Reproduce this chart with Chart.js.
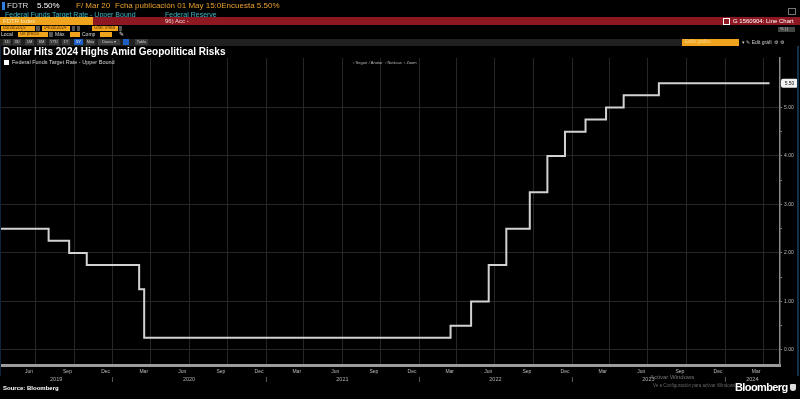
<!DOCTYPE html>
<html lang="es">
<head>
<meta charset="UTF-8">
<title>FDTR Line Chart</title>
<script src="https://cdn.jsdelivr.net/npm/chart.js"></script>
<style>
  html, body { margin: 0; padding: 0; background: #000; }
  body { width: 800px; height: 399px; position: relative; overflow: hidden; font-family: "Liberation Sans", Arial, sans-serif; }
  #chartBox { position: absolute; left: 0; top: 0; width: 800px; height: 399px; }
  .t { position: absolute; white-space: nowrap; line-height: 1; }
  .box { position: absolute; }
  .btn { position: absolute; top: 39px; height: 6px; background: #3a3a3a; color: #ccc; font-size: 4px; line-height: 6px; text-align: center; }
</style>
</head>
<body>
<div id="chartBox"><canvas id="rateChart" width="800" height="399"></canvas></div>

<!-- row 1 -->
<div class="box" style="left:2px;top:2px;width:3px;height:8px;background:#2f7fe0"></div>
<div class="t" style="left:7px;top:2px;font-size:8px;color:#ddd">FDTR</div>
<div class="t" style="left:37px;top:2px;font-size:8px;color:#fff">5.50%</div>
<div class="t" style="left:76px;top:2px;font-size:8px;color:#e8a030">F/ Mar 20</div>
<div class="t" style="left:115px;top:2px;font-size:8px;color:#e8a030">Fcha publicación 01 May 15:0Encuesta 5.50%</div>
<div class="box" style="left:788px;top:8px;width:6px;height:5px;border:1px solid #777"></div>

<!-- row 2 -->
<div class="t" style="left:5px;top:11px;font-size:7px;color:#3bb8c9">Federal Funds Target Rate - Upper Bound</div>
<div class="t" style="left:165px;top:11px;font-size:7px;color:#3bb8c9">Federal Reserve</div>

<!-- row 3 red bar -->
<div class="box" style="left:0;top:17px;width:800px;height:8px;background:#8e1822"></div>
<div class="box" style="left:0;top:17px;width:93px;height:8px;background:#f0a41e"></div>
<div class="t" style="left:3px;top:18px;font-size:6px;color:#fbe3b0">FDTR Index</div>
<div class="t" style="left:165px;top:18px;font-size:6px;color:#f1d0d0">96) Acc -</div>
<div class="box" style="left:723px;top:18px;width:5px;height:5px;border:1px solid #fff"></div>
<div class="t" style="left:733px;top:18px;font-size:6px;color:#fff">G 1560904: Line Chart</div>

<!-- row 4 -->
<div class="box" style="left:1px;top:26px;width:34px;height:5px;background:#f0a41e"></div>
<div class="t" style="left:3px;top:26px;font-size:4.5px;color:#5a3400">05/30/2019</div>
<div class="box" style="left:36px;top:26px;width:4px;height:5px;background:#555"></div>
<div class="box" style="left:42px;top:26px;width:28px;height:5px;background:#f0a41e"></div>
<div class="t" style="left:44px;top:26px;font-size:4.5px;color:#5a3400">04/30/2024</div>
<div class="box" style="left:72px;top:26px;width:3px;height:5px;background:#555"></div>
<div class="box" style="left:77px;top:26px;width:3px;height:5px;background:#555"></div>
<div class="box" style="left:92px;top:26px;width:26px;height:5px;background:#f0a41e"></div>
<div class="t" style="left:94px;top:26px;font-size:4.5px;color:#5a3400">Gráf. línea</div>
<div class="box" style="left:119px;top:26px;width:3px;height:5px;background:#555"></div>
<div class="box" style="left:778px;top:27px;width:17px;height:5px;background:#444"></div>
<div class="t" style="left:780px;top:27px;font-size:4px;color:#ccc">% (.)</div>

<!-- row 5 -->
<div class="t" style="left:1px;top:32px;font-size:5px;color:#ddd">Local</div>
<div class="box" style="left:18px;top:32px;width:30px;height:5px;background:#f0a41e"></div>
<div class="t" style="left:20px;top:32px;font-size:4.5px;color:#5a3400">Últ precio</div>
<div class="box" style="left:49px;top:32px;width:4px;height:5px;background:#555"></div>
<div class="t" style="left:55px;top:32px;font-size:5px;color:#ddd">Máx</div>
<div class="box" style="left:70px;top:32px;width:10px;height:5px;background:#f0a41e"></div>
<div class="t" style="left:82px;top:32px;font-size:5px;color:#ddd">Comp</div>
<div class="box" style="left:100px;top:32px;width:12px;height:5px;background:#f0a41e"></div>
<div class="t" style="left:119px;top:31px;font-size:6px;color:#ddd">✎</div>

<!-- row 6 -->
<div class="box" style="left:0;top:39px;width:682px;height:7px;background:#202020"></div>
<div class="btn" style="left:3px;width:8px">1D</div>
<div class="btn" style="left:13px;width:8px">3D</div>
<div class="btn" style="left:25px;width:9px">1M</div>
<div class="btn" style="left:37px;width:9px">6M</div>
<div class="btn" style="left:49px;width:10px">YTD</div>
<div class="btn" style="left:62px;width:8px">1Y</div>
<div class="btn" style="left:74px;width:9px;background:#1f5fc4;color:#fff">5Y</div>
<div class="btn" style="left:86px;width:9px">Máx</div>
<div class="btn" style="left:98px;width:22px">Diaria ▾</div>
<div class="btn" style="left:123px;width:6px;background:#1f5fc4"></div>
<div class="btn" style="left:135px;width:13px">Tabla</div>
<div class="box" style="left:682px;top:39px;width:57px;height:7px;background:#f0a41e"></div>
<div class="t" style="left:685px;top:40px;font-size:4.5px;color:#f8d48a">Estilo gráfico</div>
<div class="t" style="left:742px;top:40px;font-size:5px;color:#ccc">▾ ✎ Edit gráfi &nbsp;⚙ ⚙</div>

<!-- title -->
<div class="t" style="left:3px;top:47px;font-size:10px;font-weight:bold;color:#fff">Dollar Hits 2024 Highs Amid Geopolitical Risks</div>

<!-- legend row -->
<div class="box" style="left:4px;top:60px;width:5px;height:5px;background:#fff"></div>
<div class="t" style="left:12px;top:60px;font-size:5.5px;color:#d8d8d8">Federal Funds Target Rate - Upper Bound</div>
<div class="t" style="left:353px;top:61px;font-size:4px;color:#bbb">▫ Seguir &nbsp;⁄ Anotar &nbsp;▫ Noticias &nbsp;▫ Zoom</div>

<!-- footer -->
<div class="t" style="left:3px;top:385px;font-size:6px;font-weight:bold;color:#fff">Source: Bloomberg</div>
<div class="t" style="left:650px;top:374px;font-size:6px;color:#777">Activar Windows</div>
<div class="t" style="left:653px;top:384px;font-size:4.5px;color:#666">Ve a Configuración para activar Windows.</div>
<div class="t" style="left:735px;top:382px;font-size:11px;font-weight:bold;color:#fff;letter-spacing:-0.6px">Bloomberg</div>
<div class="box" style="left:790px;top:384px;width:6px;height:7px;background:#ddd;border-radius:1px 1px 3px 3px"></div>
<div class="box" style="left:797px;top:46px;width:2px;height:330px;background:#16304f"></div>
<div class="box" style="left:0;top:46px;width:1px;height:330px;background:#0f2238"></div>

<script>
// Fed funds target upper bound: effective date of each change, level after the change
const rateDates = ['2019-03-20', '2019-08-01', '2019-09-19', '2019-10-31', '2020-03-04', '2020-03-16',
  '2022-03-17', '2022-05-05', '2022-06-16', '2022-07-28', '2022-09-22', '2022-11-03', '2022-12-15',
  '2023-02-02', '2023-03-23', '2023-05-04', '2023-07-27', '2024-04-16'];
const upperBound = [2.50, 2.25, 2.00, 1.75, 1.25, 0.25,
  0.50, 1.00, 1.75, 2.50, 3.25, 4.00, 4.50,
  4.75, 5.00, 5.25, 5.50, 5.50];

// x axis labels (placed mid-month, Bloomberg style)
const monthTickDates = ['2019-06-15', '2019-09-15', '2019-12-15', '2020-03-15', '2020-06-15', '2020-09-15',
  '2020-12-15', '2021-03-15', '2021-06-15', '2021-09-15', '2021-12-15', '2022-03-15', '2022-06-15',
  '2022-09-15', '2022-12-15', '2023-03-15', '2023-06-15', '2023-09-15', '2023-12-15', '2024-03-15'];
const monthTickLabels = ['Jun', 'Sep', 'Dec', 'Mar', 'Jun', 'Sep', 'Dec', 'Mar', 'Jun', 'Sep', 'Dec',
  'Mar', 'Jun', 'Sep', 'Dec', 'Mar', 'Jun', 'Sep', 'Dec', 'Mar'];
const yearTickDates = ['2019-08-19', '2020-01-01', '2020-07-01', '2021-01-01', '2021-07-02', '2022-01-01',
  '2022-07-02', '2023-01-01', '2023-07-02', '2024-01-01', '2024-03-06'];
const yearTickLabels = ['2019', '|', '2020', '|', '2021', '|', '2022', '|', '2023', '|', '2024'];
// vertical grid lines at quarter boundaries
const gridDates = ['2019-07-01', '2019-10-01', '2020-01-01', '2020-04-01', '2020-07-01', '2020-10-01',
  '2021-01-01', '2021-04-01', '2021-07-01', '2021-10-01', '2022-01-01', '2022-04-01', '2022-07-01',
  '2022-10-01', '2023-01-01', '2023-04-01', '2023-07-01', '2023-10-01', '2024-01-01', '2024-04-01'];
const yTickValues = [0, 0.5, 1, 1.5, 2, 2.5, 3, 3.5, 4, 4.5, 5, 5.5];

const toMs = s => Date.parse(s + 'T00:00:00Z');
const xMin = toMs('2019-04-07');
const xMax = toMs('2024-05-11');

Chart.defaults.font.family = '"Liberation Sans", Arial, sans-serif';
Chart.defaults.color = '#bdbdbd';

const lastValueTag = {
  id: 'lastValueTag',
  afterDraw(chart) {
    const ctx = chart.ctx;
    const y = chart.scales.y.getPixelForValue(upperBound[upperBound.length - 1]);
    ctx.save();
    ctx.fillStyle = '#f2f2f2';
    ctx.beginPath();
    ctx.roundRect(781, y - 4.5, 17, 9, 2);
    ctx.fill();
    ctx.fillStyle = '#111';
    ctx.font = '5px "Liberation Sans", Arial, sans-serif';
    ctx.textAlign = 'center';
    ctx.textBaseline = 'middle';
    ctx.fillText(upperBound[upperBound.length - 1].toFixed(2), 789.5, y + 0.5);
    ctx.restore();
  }
};

new Chart(document.getElementById('rateChart').getContext('2d'), {
  type: 'line',
  data: {
    datasets: [{
      label: 'Federal Funds Target Rate - Upper Bound',
      data: rateDates.map((d, i) => ({ x: toMs(d), y: upperBound[i] })),
      xAxisID: 'x',
      yAxisID: 'y',
      borderColor: '#d2d2d2',
      borderWidth: 2,
      stepped: true,
      pointRadius: 0,
      fill: false
    }]
  },
  options: {
    responsive: false,
    animation: false,
    events: [],
    layout: { padding: { top: 58, left: 0, right: 0, bottom: 13 } },
    plugins: { legend: { display: false }, tooltip: { enabled: false } },
    scales: {
      xg: {
        type: 'linear', position: 'bottom', weight: 0, min: xMin, max: xMax,
        afterBuildTicks: s => { s.ticks = gridDates.map(d => ({ value: toMs(d) })); },
        afterFit: s => { s.height = 3; },
        ticks: { display: false },
        grid: { color: '#262626', lineWidth: 1, drawTicks: true, tickLength: 2, tickColor: '#777' },
        border: { display: true, color: '#9c9c9c', width: 3 }
      },
      x: {
        type: 'linear', position: 'bottom', weight: 1, min: xMin, max: xMax,
        afterBuildTicks: s => { s.ticks = monthTickDates.map(d => ({ value: toMs(d) })); },
        afterFit: s => { s.height = 8; },
        ticks: { callback: (v, i) => monthTickLabels[i], autoSkip: false, maxRotation: 0, padding: 1, font: { size: 5 }, color: '#bdbdbd' },
        grid: { display: false, drawTicks: false },
        border: { display: false }
      },
      xy: {
        type: 'linear', position: 'bottom', weight: 2, min: xMin, max: xMax,
        afterBuildTicks: s => { s.ticks = yearTickDates.map(d => ({ value: toMs(d) })); },
        afterFit: s => { s.height = 10; },
        ticks: { callback: (v, i) => yearTickLabels[i], autoSkip: false, maxRotation: 0, padding: 0, font: { size: 5.5 }, color: '#b0b0b0' },
        grid: { display: false, drawTicks: false },
        border: { display: false }
      },
      y: {
        type: 'linear', position: 'right', min: -0.31, max: 6.02,
        afterBuildTicks: s => { s.ticks = yTickValues.map(v => ({ value: v })); },
        afterFit: s => { s.width = 20; },
        ticks: {
          callback: v => (v % 1 === 0 ? v.toFixed(2) : ''),
          padding: 2, font: { size: 5 }, color: '#bdbdbd'
        },
        grid: {
          color: c => (c.tick && c.tick.value % 1 === 0 ? '#262626' : 'rgba(0,0,0,0)'),
          tickColor: '#8a8a8a', tickLength: 2, lineWidth: 1
        },
        border: { display: true, color: '#8a8a8a', width: 1.5 }
      }
    }
  },
  plugins: [lastValueTag]
});
</script>
</body>
</html>
